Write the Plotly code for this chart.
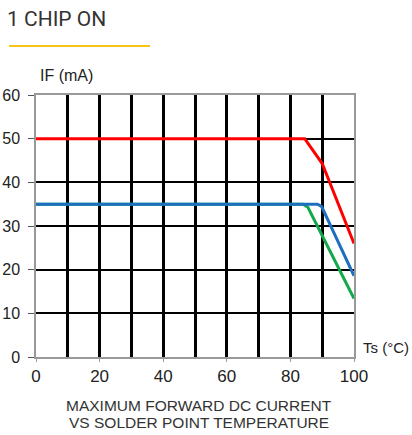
import plotly.graph_objects as go

# Data
red_x = [0, 84.5, 90, 100]
red_y = [50, 50, 44.3, 26]
green_x = [0, 84, 85.5, 86.7, 100]
green_y = [35, 35, 34.3, 32.6, 13.4]
blue_x = [0, 88.5, 89.8, 100]
blue_y = [35, 35, 34.5, 18.6]

x_ticks = [0, 20, 40, 60, 80, 100]
y_ticks = [0, 10, 20, 30, 40, 50, 60]

fig = go.Figure()
for xs, ys, col in [(red_x, red_y, "#FF0000"), (green_x, green_y, "#12A94A"), (blue_x, blue_y, "#1C6FC0")]:
    fig.add_trace(go.Scatter(x=xs, y=ys, mode="lines", line=dict(color=col, width=3), hoverinfo="skip", showlegend=False))

font_main = "Liberation Sans, Arial, sans-serif"

L, R, T, B = 36, 354, 95, 357
W, H = R - L, B - T


def px(x):
    return (x - L) / W


def py(y):
    return (B - y) / H


fig.update_layout(
    width=412, height=435,
    margin=dict(l=L, r=412 - R, t=T, b=435 - B, autoexpand=False),
    paper_bgcolor="white", plot_bgcolor="white",
    showlegend=False,
    xaxis=dict(
        range=[0, 100], tickvals=x_ticks, ticktext=[str(v) for v in x_ticks],
        showgrid=True, gridcolor="black", gridwidth=2.5,
        minor=dict(dtick=10, tick0=0, showgrid=True, gridcolor="black", gridwidth=2.5, ticks=""),
        showline=True, linecolor="#999999", linewidth=1.5, mirror=True,
        ticks="outside", ticklen=3, tickcolor="#999999",
        tickfont=dict(family=font_main, size=17, color="#222222"),
        zeroline=False, fixedrange=True, automargin=False,
    ),
    yaxis=dict(
        range=[0, 60], tickvals=y_ticks, ticktext=[str(v) for v in y_ticks],
        showgrid=True, gridcolor="black", gridwidth=2,
        showline=True, linecolor="#999999", linewidth=1.5, mirror=True,
        ticks="outside", ticklen=6, tickcolor="#555555",
        ticklabelstandoff=5,
        tickfont=dict(family=font_main, size=16, color="#222222"),
        zeroline=False, fixedrange=True, automargin=False,
    ),
    shapes=[
        dict(type="line", xref="paper", yref="paper",
             x0=px(9), x1=px(150), y0=py(46), y1=py(46),
             line=dict(color="#F5C518", width=2)),
    ],
    annotations=[
        dict(text="1 CHIP ON", xref="paper", yref="paper",
             x=px(5), y=py(19), xanchor="left", yanchor="middle",
             showarrow=False, font=dict(family="Roboto, sans-serif", size=21, color="#333333")),
        dict(text="IF (mA)", xref="paper", yref="paper",
             x=px(38), y=py(75), xanchor="left", yanchor="middle",
             showarrow=False, font=dict(family=font_main, size=16, color="#222222")),
        dict(text="Ts (\u00b0C)", xref="paper", yref="paper",
             x=px(361), y=py(347), xanchor="left", yanchor="middle",
             showarrow=False, font=dict(family=font_main, size=15, color="#222222")),
        dict(text="MAXIMUM FORWARD DC CURRENT", xref="paper", yref="paper",
             x=px(199), y=py(405), xanchor="center", yanchor="middle",
             showarrow=False, font=dict(family=font_main, size=15.5, color="#333333")),
        dict(text="VS SOLDER POINT TEMPERATURE", xref="paper", yref="paper",
             x=px(199), y=py(423), xanchor="center", yanchor="middle",
             showarrow=False, font=dict(family=font_main, size=15.5, color="#333333")),
    ],
)

fig.write_html("out.html", config={"displayModeBar": False},
               post_script="document.body.style.margin='0px';")
